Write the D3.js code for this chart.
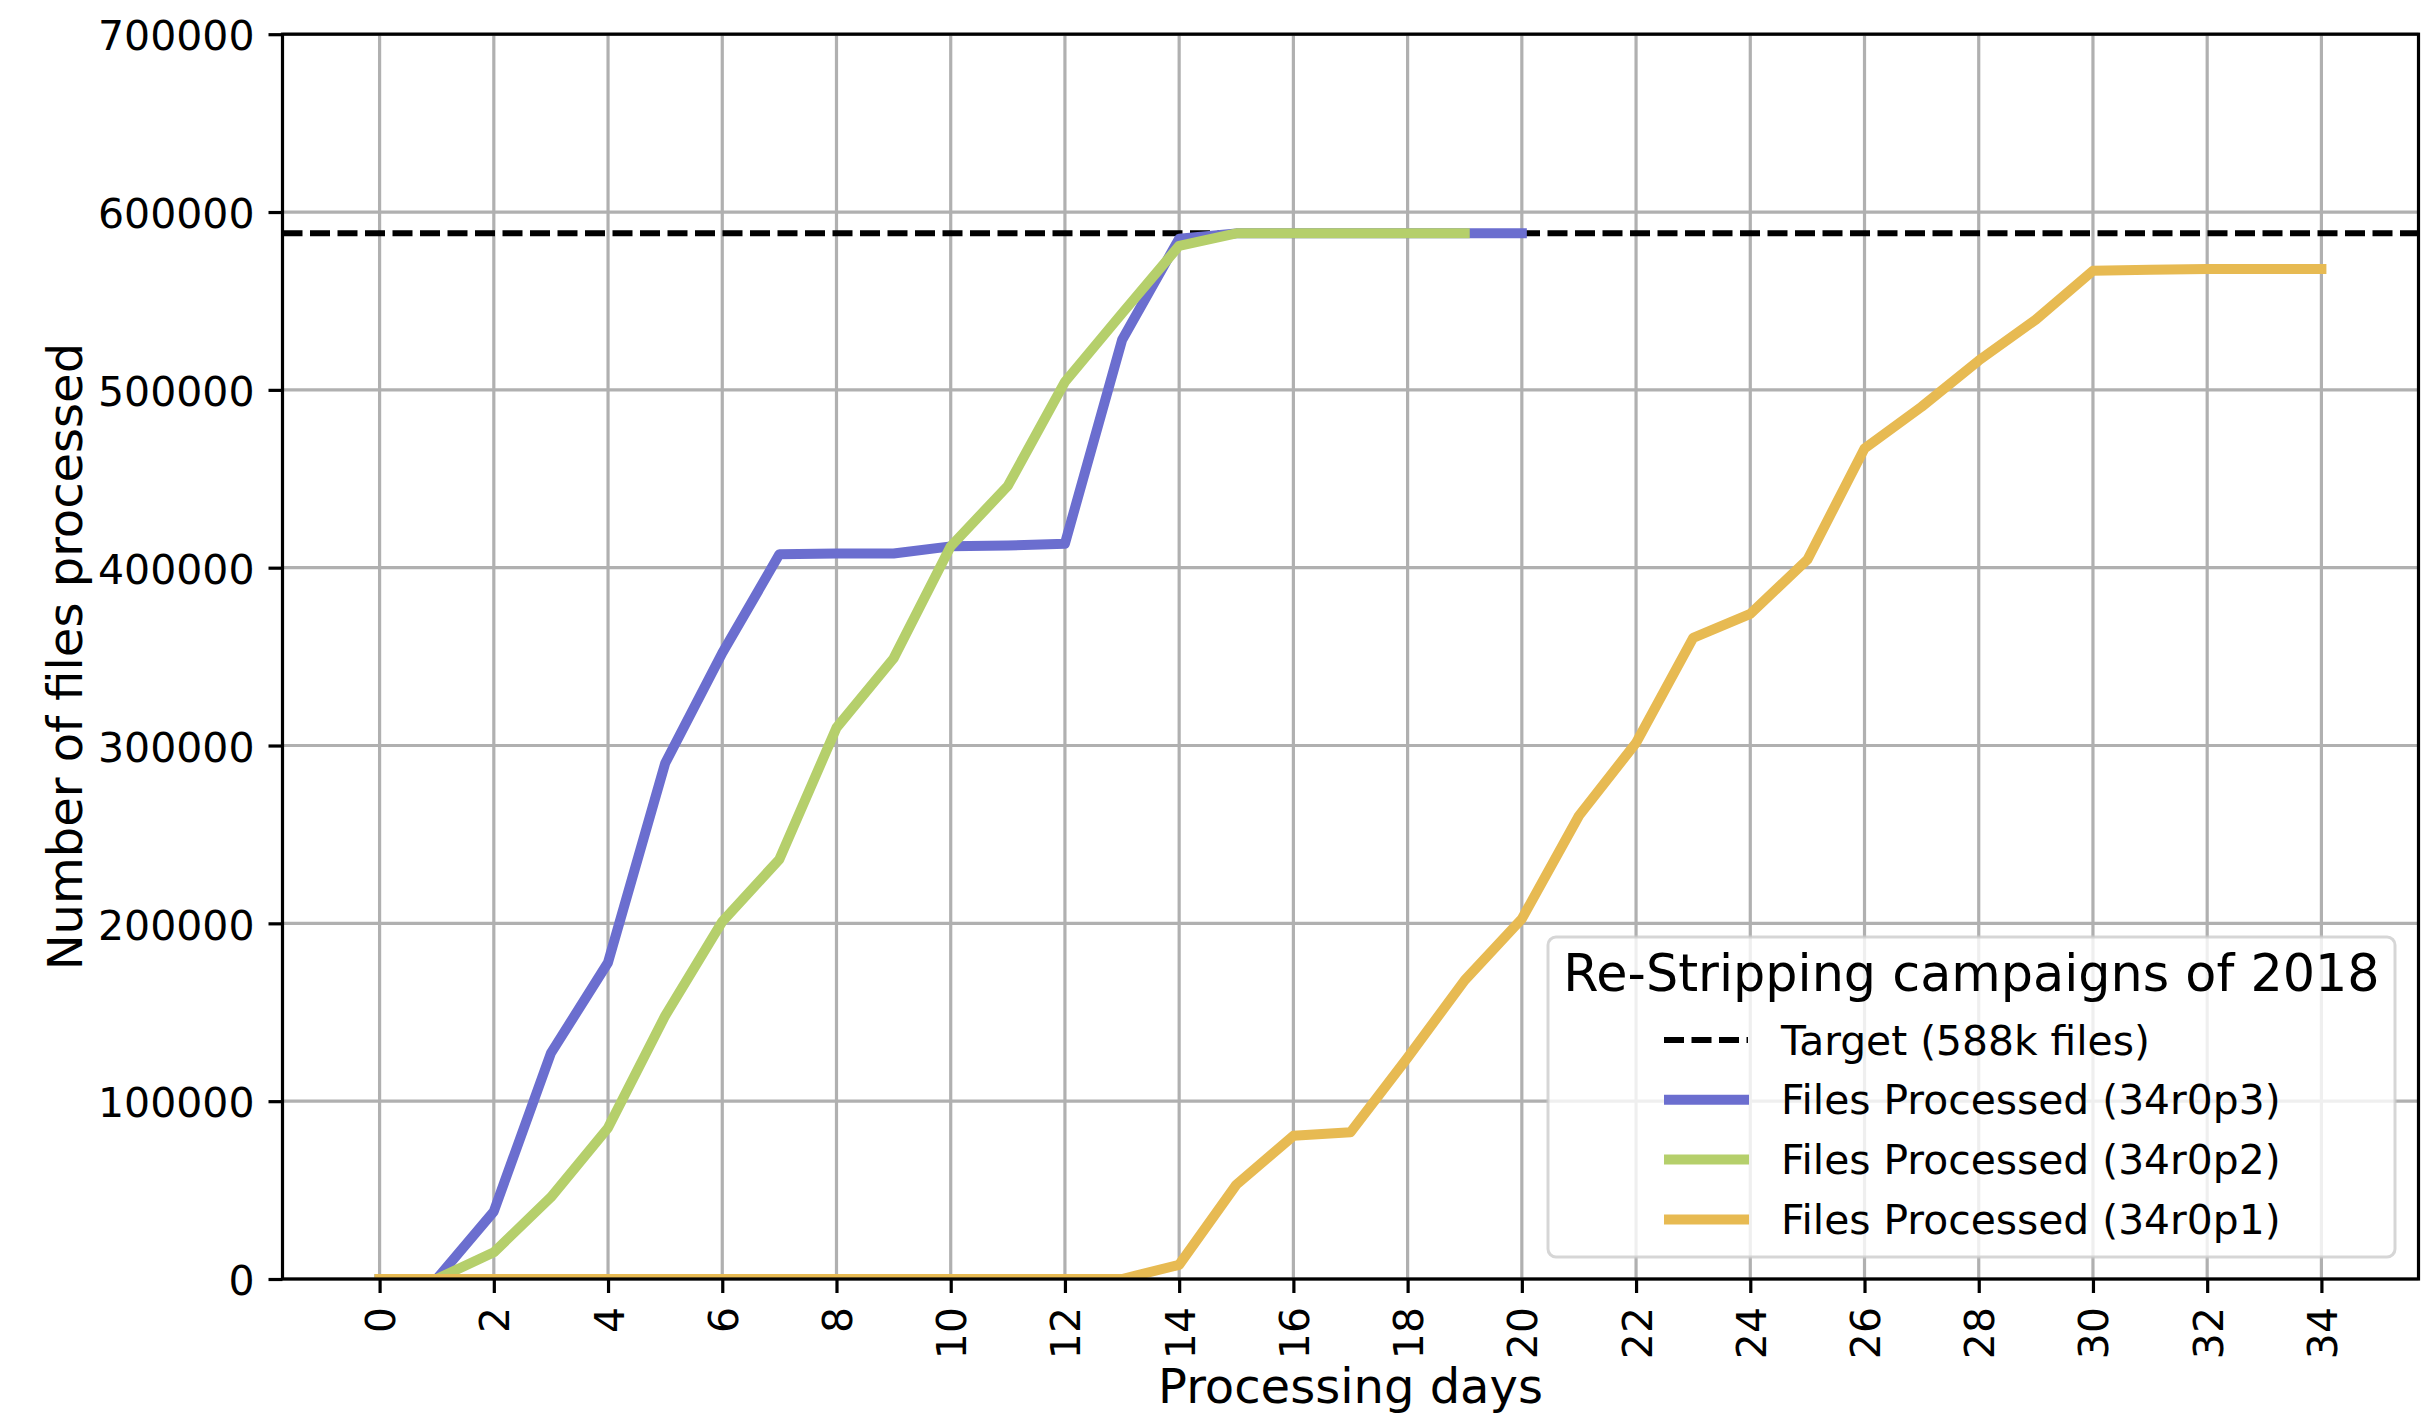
<!DOCTYPE html>
<html>
<head>
<meta charset="utf-8">
<script src="https://cdn.jsdelivr.net/npm/d3@7"></script>
<style>
  body { margin: 0; background: #ffffff; }
  svg { display: block; }
  text { font-family: "DejaVu Sans", sans-serif; fill: #000; }
</style>
</head>
<body>
<svg id="chart" width="2434" height="1415"></svg>
<script>
// ---------------- data ----------------
const daysP3  = [0,1,2,3,4,5,6,7,8,9,10,11,12,13,14,15,16,17,18,19,20];
const filesP3 = [0,0,38000,127000,178000,290000,352000,407500,408000,408000,412000,412500,413500,528000,585000,588000,588000,588000,588000,588000,588000];

const daysP2  = [0,1,2,3,4,5,6,7,8,9,10,11,12,13,14,15,16,17,18,19];
const filesP2 = [0,0,15000,46000,85000,148000,201000,236000,310000,349000,412000,446000,504500,543000,581000,588000,588000,588000,588000,588000];

const daysP1  = [0,1,2,3,4,5,6,7,8,9,10,11,12,13,14,15,16,17,18,19,20,21,22,23,24,25,26,27,28,29,30,31,32,33,34];
const filesP1 = [0,0,0,0,0,0,0,0,0,0,0,0,0,0,8000,53000,80500,82500,124500,168000,202500,260500,301500,360500,374000,404500,467000,490500,516500,539500,567000,567500,568000,568000,568000];

const targetFiles = 588000;

const seriesNames  = ["Files Processed (34r0p3)", "Files Processed (34r0p2)", "Files Processed (34r0p1)"];
const seriesColors = ["#6b6ecf", "#b5cf6b", "#e7ba52"];
const targetLabel  = "Target (588k files)";
const legendTitle  = "Re-Stripping campaigns of 2018";

const xTickValues = [0,2,4,6,8,10,12,14,16,18,20,22,24,26,28,30,32,34];
const yTickValues = [0,100000,200000,300000,400000,500000,600000,700000];
const xLabel = "Processing days";
const yLabel = "Number of files processed";

// ---------------- layout ----------------
const svg = d3.select("#chart");
const L = 282.5, R = 2418.5, T = 34.2, B = 1279;

const x = d3.scaleLinear().domain([-1.7, 35.7]).range([L, R]);
const y = d3.scaleLinear().domain([0, 700000]).range([B, T]);

svg.append("rect").attr("width", 2434).attr("height", 1415).attr("fill", "#fff");

// clip
svg.append("defs").append("clipPath").attr("id", "plotclip")
  .append("rect").attr("x", L).attr("y", T).attr("width", R - L).attr("height", B - T);

// grid
const grid = svg.append("g");
grid.selectAll("line.gx").data(xTickValues).join("line")
  .attr("class", "gx")
  .attr("x1", d => x(d)).attr("x2", d => x(d)).attr("y1", T).attr("y2", B)
  .attr("stroke", "#b0b0b0").attr("stroke-width", 3.2);
grid.selectAll("line.gy").data(yTickValues).join("line")
  .attr("class", "gy")
  .attr("x1", L).attr("x2", R).attr("y1", d => y(d)).attr("y2", d => y(d))
  .attr("stroke", "#b0b0b0").attr("stroke-width", 3.2);

// lines
const plot = svg.append("g").attr("clip-path", "url(#plotclip)");

plot.append("line")
  .attr("x1", L).attr("x2", R).attr("y1", y(targetFiles)).attr("y2", y(targetFiles))
  .attr("stroke", "#000").attr("stroke-width", 6)
  .attr("stroke-dasharray", "20,7.5");

const lineGen = d3.line().x(d => x(d[0])).y(d => y(d[1]));
const seriesData = [
  d3.zip(daysP3, filesP3),
  d3.zip(daysP2, filesP2),
  d3.zip(daysP1, filesP1)
];
seriesData.forEach((pts, i) => {
  plot.append("path")
    .attr("d", lineGen(pts))
    .attr("fill", "none")
    .attr("stroke", seriesColors[i])
    .attr("stroke-width", 10)
    .attr("stroke-linejoin", "round")
    .attr("stroke-linecap", "square");
});

// axes
const xAxis = d3.axisBottom(x).tickValues(xTickValues).tickSize(14).tickPadding(14).tickFormat(d3.format("d"));
const gx = svg.append("g").attr("transform", `translate(0,${B})`).call(xAxis);
gx.select(".domain").remove();
gx.selectAll(".tick line").attr("stroke", "#000").attr("stroke-width", 3.2);
gx.selectAll(".tick text")
  .attr("font-size", 41)
  .attr("fill", "#000")
  .attr("text-anchor", "end")
  .attr("transform", "translate(0,28) rotate(-90)")
  .attr("x", 0).attr("y", 0).attr("dy", "0.365em");

const yAxis = d3.axisLeft(y).tickValues(yTickValues).tickSize(14).tickPadding(14).tickFormat(d3.format("d"));
const gy = svg.append("g").attr("transform", `translate(${L},0)`).call(yAxis);
gy.select(".domain").remove();
gy.selectAll(".tick line").attr("stroke", "#000").attr("stroke-width", 3.2);
gy.selectAll(".tick text")
  .attr("font-size", 41)
  .attr("fill", "#000")
  .attr("dy", "0.385em");

// spines
svg.append("rect")
  .attr("x", L).attr("y", T).attr("width", R - L).attr("height", B - T)
  .attr("fill", "none").attr("stroke", "#000").attr("stroke-width", 3.2);

// axis labels
svg.append("text")
  .attr("x", (L + R) / 2).attr("y", 1403)
  .attr("text-anchor", "middle").attr("font-size", 48)
  .text(xLabel);
svg.append("text")
  .attr("transform", `translate(82,${(T + B) / 2}) rotate(-90)`)
  .attr("text-anchor", "middle").attr("font-size", 48)
  .text(yLabel);

// legend
const lg = svg.append("g");
const lx0 = 1548, ly0 = 937, lw = 847, lh = 320;
lg.append("rect")
  .attr("x", lx0).attr("y", ly0).attr("width", lw).attr("height", lh)
  .attr("rx", 8).attr("ry", 8)
  .attr("fill", "#fff").attr("fill-opacity", 0.8)
  .attr("stroke", "#cccccc").attr("stroke-opacity", 0.8).attr("stroke-width", 3);
lg.append("text")
  .attr("x", lx0 + lw / 2).attr("y", 991)
  .attr("text-anchor", "middle").attr("font-size", 50.8)
  .text(legendTitle);

const legendItems = [
  { label: targetLabel, color: "#000", dash: true },
  ...seriesNames.map((n, i) => ({ label: n, color: seriesColors[i], dash: false }))
];
const rowY0 = 1040, rowStep = 59.8;
const hx1 = 1664, hx2 = 1749, tx = 1781;
legendItems.forEach((it, i) => {
  const cy = rowY0 + i * rowStep;
  if (it.dash) {
    lg.append("line")
      .attr("x1", hx1).attr("x2", hx2 - 1).attr("y1", cy).attr("y2", cy)
      .attr("stroke", "#000").attr("stroke-width", 6)
      .attr("stroke-dasharray", "20,7.5");
  } else {
    lg.append("line")
      .attr("x1", hx1 + 5).attr("x2", hx2 - 5).attr("y1", cy).attr("y2", cy)
      .attr("stroke", it.color).attr("stroke-width", 10)
      .attr("stroke-linecap", "square");
  }
  lg.append("text")
    .attr("x", tx).attr("y", cy).attr("dy", "0.36em")
    .attr("font-size", 40.8)
    .text(it.label);
});
</script>
</body>
</html>
